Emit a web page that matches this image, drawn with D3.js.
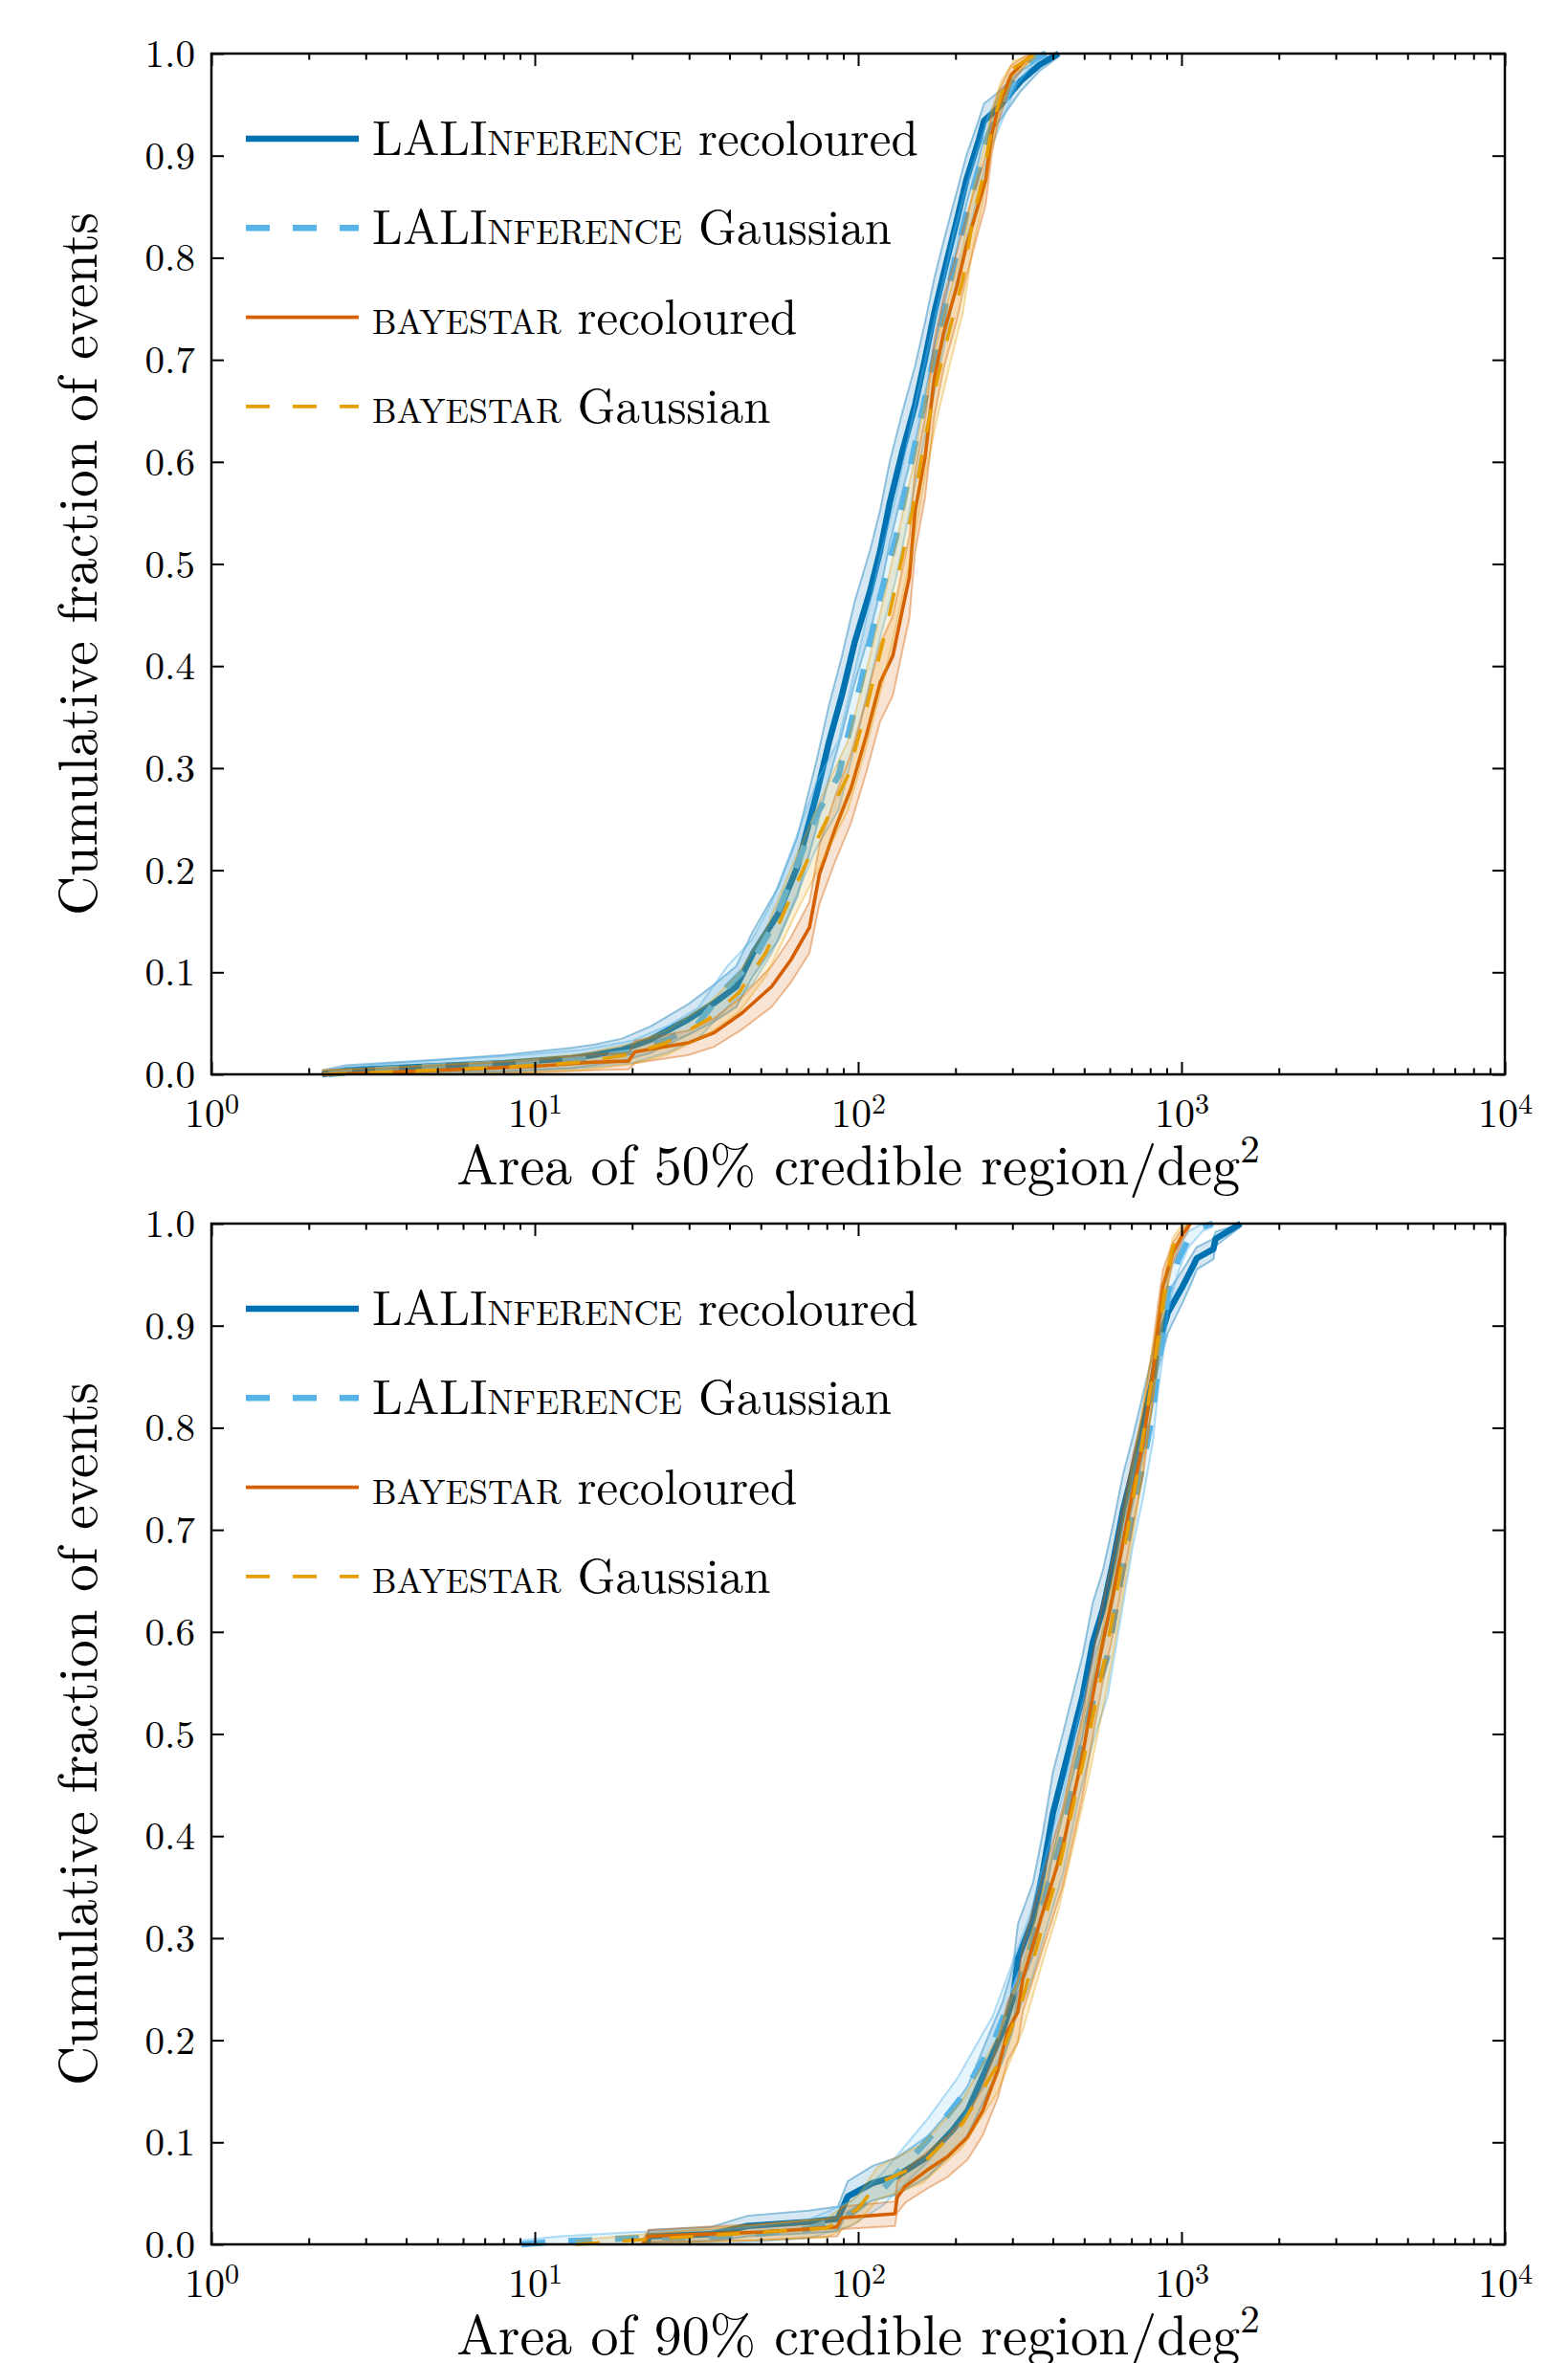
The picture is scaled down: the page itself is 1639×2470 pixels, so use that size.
<!DOCTYPE html>
<html>
<head>
<meta charset="utf-8">
<script src="https://cdn.jsdelivr.net/npm/d3@7"></script>
<style>
  body { margin: 0; background: #fff; }
  svg { display: block; }
</style>
</head>
<body>
<svg id="chart" width="1639" height="2470"></svg>
<script>
// ---- data: [area in deg^2, cumulative fraction, band half-width] ----

// 50% credible region
var lalRec50 = [[2.2,0,0.004],[2.6,0.004,0.005],[4.8,0.008,0.006],[8,0.011,0.008],[13,0.016,0.01],[15.2,0.019,0.01],
  [18.6,0.024,0.011],[22.8,0.034,0.013],[29.9,0.054,0.015],[35.9,0.07,0.018],[42,0.086,0.02],[47.2,0.118,0.022],
  [56.5,0.157,0.026],[64.8,0.203,0.029],[74.3,0.274,0.033],[81.3,0.326,0.036],[89,0.371,0.038],[97.5,0.423,0.04],
  [109,0.474,0.04],[117,0.513,0.04],[125,0.559,0.04],[137,0.61,0.039],[150,0.656,0.038],[161,0.701,0.036],
  [172,0.746,0.034],[184,0.785,0.032],[202,0.837,0.028],[216,0.876,0.024],[236,0.915,0.02],[245,0.934,0.017],
  [271,0.947,0.015],[318,0.973,0.01],[364,0.989,0.006],[417,1.0,0.003]];
var lalGau50 = [[2.3,0,0.004],[3,0.004,0.005],[5,0.008,0.006],[9,0.011,0.008],[14,0.015,0.009],[20,0.022,0.011],
  [26,0.035,0.013],[32,0.05,0.015],[39.4,0.086,0.02],[47,0.11,0.022],[54.1,0.144,0.025],[61.9,0.19,0.028],
  [74.3,0.254,0.032],[87,0.293,0.034],[102,0.384,0.038],[117,0.468,0.04],[131,0.526,0.04],[150,0.617,0.039],
  [161,0.662,0.037],[184,0.746,0.034],[197,0.792,0.031],[216,0.843,0.027],[231,0.876,0.024],[253,0.921,0.019],
  [277,0.947,0.015],[310,0.979,0.009],[348,0.995,0.005],[381,1.0,0.003]];
var bayRec50 = [[2.2,0,0.004],[3.5,0.002,0.004],[6,0.005,0.005],[10,0.008,0.006],[15.2,0.012,0.008],[19.5,0.013,0.008],
  [20.4,0.022,0.011],[29.9,0.031,0.012],[35.9,0.041,0.014],[43.7,0.06,0.016],[54,0.086,0.02],[61.9,0.112,0.022],
  [70.7,0.144,0.025],[75.9,0.196,0.029],[85,0.241,0.032],[95,0.28,0.034],[106,0.332,0.036],[117,0.384,0.038],
  [128,0.41,0.039],[137,0.455,0.04],[144,0.487,0.04],[150,0.552,0.04],[161,0.604,0.039],[172,0.682,0.037],
  [184,0.727,0.035],[202,0.772,0.033],[216,0.811,0.03],[231,0.843,0.027],[248,0.876,0.024],[259,0.921,0.019],
  [271,0.947,0.015],[297,0.979,0.009],[326,0.992,0.005],[348,1.0,0.003]];
var bayGau50 = [[2.2,0,0.004],[4,0.003,0.005],[8,0.007,0.006],[14,0.012,0.008],[20,0.02,0.01],[25.5,0.031,0.012],
  [34.4,0.054,0.015],[42.8,0.08,0.019],[52,0.12,0.023],[65.2,0.19,0.028],[77.6,0.241,0.032],[93,0.293,0.034],
  [106,0.358,0.037],[122,0.436,0.04],[134,0.494,0.04],[147,0.552,0.04],[161,0.623,0.038],[176,0.682,0.037],
  [193,0.733,0.035],[211,0.779,0.032],[226,0.837,0.028],[242,0.876,0.024],[259,0.927,0.018],[277,0.96,0.013],
  [303,0.986,0.007],[356,1.0,0.003]];

// 90% credible region
var lalRec90 = [[22.3,0,0.004],[22.5,0.008,0.006],[35,0.01,0.007],[45.5,0.018,0.01],[70,0.022,0.011],[86.5,0.025,0.012],
  [92.9,0.047,0.015],[111,0.06,0.017],[132,0.067,0.018],[164,0.086,0.02],[196,0.112,0.022],[218,0.131,0.024],
  [252,0.176,0.027],[280,0.209,0.029],[301,0.241,0.031],[312,0.28,0.034],[347,0.318,0.036],[372,0.364,0.038],
  [400,0.422,0.04],[430,0.461,0.04],[461,0.499,0.04],[495,0.538,0.04],[532,0.59,0.039],[571,0.622,0.038],
  [613,0.667,0.037],[659,0.719,0.035],[707,0.758,0.033],[760,0.803,0.03],[816,0.848,0.026],[846,0.88,0.023],
  [908,0.913,0.02],[1010,0.939,0.016],[1084,0.958,0.013],[1115,0.966,0.011],[1255,0.975,0.01],[1274,0.985,0.007],
  [1525,1.0,0.003]];
var lalGau90 = [[9.1,0,0.004],[12,0.003,0.005],[20,0.006,0.006],[40,0.008,0.007],[70,0.015,0.009],[95,0.03,0.012],
  [119,0.054,0.016],[164,0.102,0.021],[204,0.14,0.024],[261,0.196,0.028],[341,0.29,0.034],[386,0.351,0.037],
  [430,0.402,0.039],[478,0.473,0.04],[532,0.532,0.04],[592,0.577,0.039],[636,0.635,0.038],[707,0.719,0.035],
  [760,0.764,0.033],[816,0.816,0.029],[846,0.861,0.025],[877,0.893,0.022],[908,0.932,0.017],[976,0.964,0.012],
  [1047,0.984,0.008],[1164,0.997,0.004],[1250,1.0,0.003]];
var bayRec90 = [[21.5,0,0.004],[22.5,0.008,0.006],[50,0.012,0.008],[86,0.017,0.009],[89,0.026,0.011],[130,0.03,0.012],
  [132,0.046,0.015],[140,0.057,0.016],[164,0.073,0.018],[189,0.086,0.02],[218,0.105,0.022],[243,0.131,0.024],
  [270,0.17,0.027],[290,0.209,0.029],[312,0.228,0.03],[323,0.26,0.032],[347,0.293,0.034],[372,0.325,0.036],
  [400,0.357,0.037],[430,0.39,0.038],[461,0.435,0.04],[495,0.48,0.04],[532,0.538,0.04],[571,0.59,0.039],
  [613,0.635,0.038],[659,0.687,0.036],[707,0.738,0.034],[760,0.784,0.031],[816,0.855,0.026],[846,0.9,0.021],
  [877,0.939,0.016],[940,0.971,0.01],[1010,0.99,0.006],[1064,1.0,0.003]];
var bayGau90 = [[13.4,0,0.004],[20,0.004,0.005],[40,0.01,0.007],[80,0.016,0.009],[100,0.035,0.013],[115,0.06,0.016],
  [158,0.079,0.019],[210,0.118,0.023],[270,0.176,0.027],[323,0.241,0.031],[372,0.312,0.035],[415,0.364,0.038],
  [461,0.428,0.04],[513,0.493,0.04],[571,0.564,0.04],[613,0.616,0.039],[682,0.7,0.036],[733,0.758,0.033],
  [787,0.822,0.029],[846,0.887,0.023],[892,0.939,0.016],[940,0.977,0.009],[1010,0.997,0.004],[1040,1.0,0.003]];

// axis ticks and labels
var decadeTicks = [1, 10, 100, 1000, 10000];
var decadeExponents = ["0", "1", "2", "3", "4"];
var fractionTicks = [0, 0.1, 0.2, 0.3, 0.4, 0.5, 0.6, 0.7, 0.8, 0.9, 1.0];
var credibleLevels = ["50%", "90%"];
var legendLabels = [["LALInference", " recoloured"], ["LALInference", " Gaussian"],
                    ["bayestar", " recoloured"], ["bayestar", " Gaussian"]];

// ---- styling ----
var serif = "'Latin Modern Roman', 'Liberation Serif', 'Times New Roman'";
var seriesStyle = [
  {color: "#0072B2", width: 6.5, dash: null,    bandFill: 0.17, bandEdge: 0.4},
  {color: "#56B4E9", width: 6.5, dash: "25,24", bandFill: 0.15, bandEdge: 0.45},
  {color: "#D55E00", width: 3.6, dash: null,    bandFill: 0.17, bandEdge: 0.4},
  {color: "#E69F00", width: 3.6, dash: "25,24", bandFill: 0.15, bandEdge: 0.35}
];

var panels = [
  {top: 56,   level: credibleLevels[0], series: [lalRec50, lalGau50, bayRec50, bayGau50]},
  {top: 1279, level: credibleLevels[1], series: [lalRec90, lalGau90, bayRec90, bayGau90]}
];

var left = 221, right = 1573, plotH = 1067;
var majorLen = 13, minorLen = 6.5;
var svg = d3.select("#chart");

function rgba(hex, a) {
  var c = d3.rgb(hex);
  return "rgba(" + c.r + "," + c.g + "," + c.b + "," + a + ")";
}

// every text gets the TeX-like font explicitly
function font(sel, size) {
  return sel.style("font-family", serif).style("font-size", size + "px").attr("fill", "#000");
}

panels.forEach(function (p) {
  var bottom = p.top + plotH;
  var x = d3.scaleLog().domain([1, 1e4]).range([left, right]);
  var y = d3.scaleLinear().domain([0, 1]).range([bottom, p.top]);

  var g = svg.append("g");

  // curves with their shaded bands
  p.series.forEach(function (data, i) {
    var s = seriesStyle[i];
    var lo = function (d) { return y(Math.max(0, d[1] - d[2])); };
    var hi = function (d) { return y(Math.min(1, d[1] + d[2])); };
    var area = d3.area().x(function (d) { return x(d[0]); }).y0(lo).y1(hi);

    g.append("path").datum(data)
        .attr("d", area)
        .attr("fill", rgba(s.color, s.bandFill))
        .attr("stroke", "none");

    [lo, hi].forEach(function (fy) {
      g.append("path").datum(data)
          .attr("d", d3.line().x(function (d) { return x(d[0]); }).y(fy))
          .attr("fill", "none")
          .attr("stroke", rgba(s.color, s.bandEdge))
          .attr("stroke-width", 2);
    });

    g.append("path").datum(data)
        .attr("d", d3.line().x(function (d) { return x(d[0]); }).y(function (d) { return y(d[1]); }))
        .attr("fill", "none")
        .attr("stroke", s.color)
        .attr("stroke-width", s.width)
        .attr("stroke-dasharray", s.dash)
        .attr("stroke-linejoin", "round");
  });

  // ticks, all pointing inward
  var minor = x.ticks().filter(function (v) { return decadeTicks.indexOf(v) < 0; });

  function tickAxis(axis, pos) {
    var a = g.append("g").attr("transform", pos).call(axis);
    a.select(".domain").remove();
    a.selectAll("line").attr("stroke", "#000").attr("stroke-width", 2);
    return a;
  }

  // bottom x ticks with 10^n labels
  var xb = tickAxis(d3.axisBottom(x).tickValues(decadeTicks).tickSize(-majorLen).tickFormat(""),
                    "translate(0," + bottom + ")");
  xb.selectAll(".tick text").remove();
  font(xb.selectAll(".tick").append("text"), 42)
      .attr("y", 55)
      .attr("text-anchor", "middle")
      .each(function (d, i) {
        var t = d3.select(this);
        t.append("tspan").text("10");
        t.append("tspan").attr("dy", -14).style("font-size", "30px").text(decadeExponents[i]);
      });
  tickAxis(d3.axisBottom(x).tickValues(minor).tickSize(-minorLen).tickFormat(""), "translate(0," + bottom + ")");
  tickAxis(d3.axisTop(x).tickValues(decadeTicks).tickSize(-majorLen).tickFormat(""), "translate(0," + p.top + ")");
  tickAxis(d3.axisTop(x).tickValues(minor).tickSize(-minorLen).tickFormat(""), "translate(0," + p.top + ")");

  var yl = tickAxis(d3.axisLeft(y).tickValues(fractionTicks).tickSize(-majorLen).tickPadding(17)
                      .tickFormat(d3.format(".1f")), "translate(" + left + ",0)");
  font(yl.selectAll(".tick text"), 41).attr("dy", "0.33em");
  tickAxis(d3.axisRight(y).tickValues(fractionTicks).tickSize(-majorLen).tickFormat(""),
           "translate(" + right + ",0)");

  // frame
  g.append("rect")
      .attr("x", left).attr("y", p.top)
      .attr("width", right - left).attr("height", plotH)
      .attr("fill", "none").attr("stroke", "#000").attr("stroke-width", 2.5);

  // axis titles
  var xt = font(g.append("text"), 58)
      .attr("x", (left + right) / 2).attr("y", bottom + 115)
      .attr("text-anchor", "middle");
  xt.append("tspan").text("Area of " + p.level + " credible region/deg");
  xt.append("tspan").attr("dy", -23).style("font-size", "41px").text("2");

  font(g.append("text"), 57)
      .attr("transform", "translate(101," + (p.top + plotH / 2) + ") rotate(-90)")
      .attr("text-anchor", "middle")
      .text("Cumulative fraction of events");

  // legend
  var lg = g.append("g");
  legendLabels.forEach(function (lab, i) {
    var s = seriesStyle[i];
    var ly = p.top + 89 + i * 93.3;
    lg.append("line")
        .attr("x1", 257).attr("x2", 375).attr("y1", ly).attr("y2", ly)
        .attr("stroke", s.color).attr("stroke-width", s.width)
        .attr("stroke-dasharray", s.dash);
    var t = font(lg.append("text"), 51)
        .attr("x", 389).attr("y", ly + 17);
    t.append("tspan").style("font-variant", "small-caps").text(lab[0]);
    t.append("tspan").text(lab[1]);
  });
});
</script>
</body>
</html>
